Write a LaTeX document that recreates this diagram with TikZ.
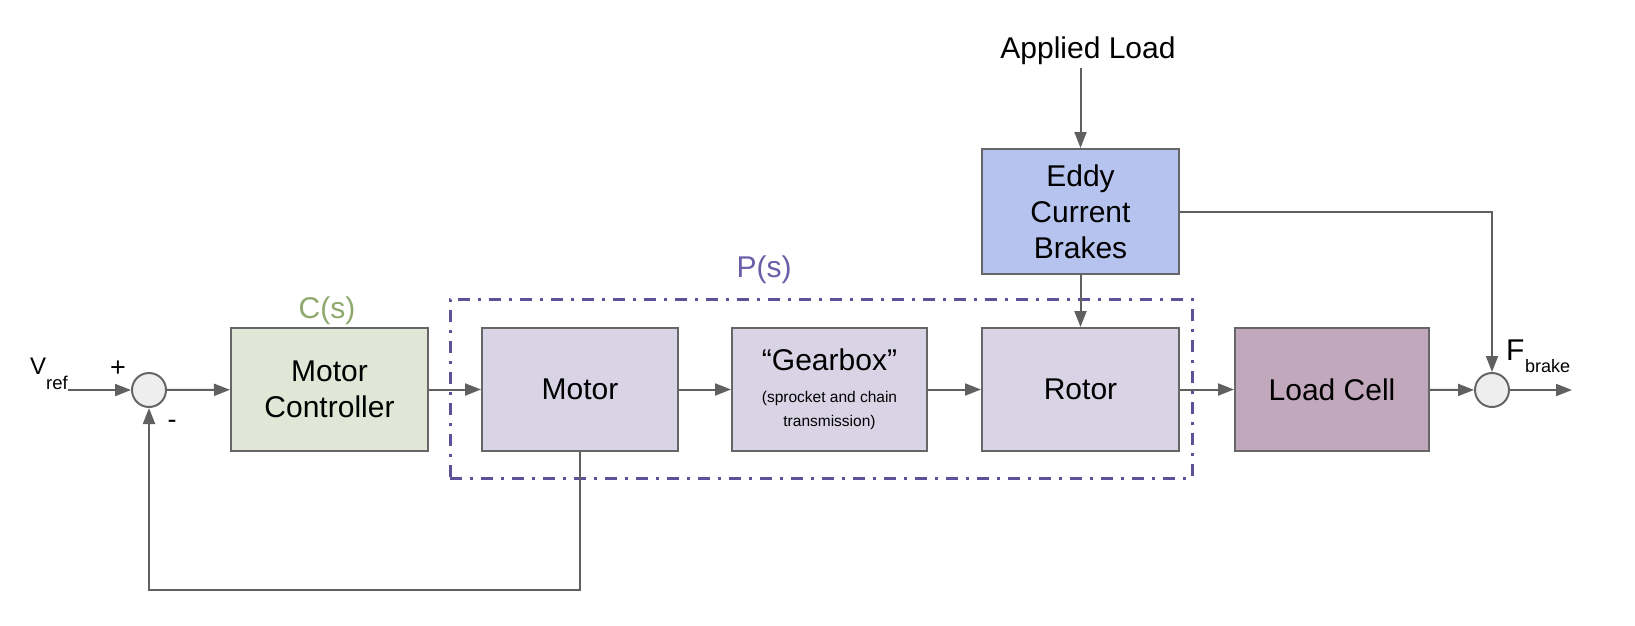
\documentclass[tikz,border=0pt]{standalone}
\usepackage{fontspec}
\setmainfont{Liberation Sans}
\usetikzlibrary{arrows.meta}
\definecolor{linegray}{HTML}{606060}
\definecolor{boxgray}{HTML}{666666}
\definecolor{ctrlfill}{HTML}{E0E7D6}
\definecolor{plantfill}{HTML}{D9D3E6}
\definecolor{eddyfill}{HTML}{B5C3EE}
\definecolor{cellfill}{HTML}{C2A8BD}
\definecolor{sumfill}{HTML}{EEEEEE}
\definecolor{cgreen}{HTML}{8FA86E}
\definecolor{ppurple}{HTML}{6A5EA8}
\definecolor{dashpurple}{HTML}{5E5199}
\tikzset{
  blk/.style={draw=boxgray, line width=2pt, minimum height=123pt, align=center,
    font=\fontsize{30}{36}\selectfont, inner sep=0pt},
  sumnode/.style={circle, draw=boxgray, line width=2pt, fill=sumfill, minimum size=34pt, inner sep=0pt},
  conn/.style={draw=linegray, line width=2pt, -{Triangle[length=16pt,width=12pt]}},
  lbl/.style={font=\fontsize{30}{36}\selectfont, inner sep=0pt},
}
\begin{document}
\begin{tikzpicture}[x=1pt,y=-1pt]
\useasboundingbox (0,0) rectangle (1635,625);
% plant dashed frame
\node (plant) [draw=dashpurple, line width=3pt, dash pattern=on 12pt off 8pt on 3pt off 8pt,
  minimum width=742pt, minimum height=179pt] at (821,388.5) {};
\node (plabel) [lbl, text=ppurple] at (764,270) {P(s)};
% blocks
\node (ctrl) [blk, fill=ctrlfill, minimum width=197pt] at (329.5,389.5) {Motor\\Controller};
\node (clabel) [lbl, text=cgreen] at (327,311) {C(s)};
\node (motor) [blk, fill=plantfill, minimum width=196pt] at (580,389.5) {Motor};
\node (gear) [blk, fill=plantfill, minimum width=195pt] at (829.5,389.5)
  {{\fontsize{30}{34}\selectfont “Gearbox”}\\[-4pt]{\fontsize{15.5}{20}\selectfont (sprocket and chain}\\[-12pt]{\fontsize{15.5}{20}\selectfont transmission)}};
\node (rotor) [blk, fill=plantfill, minimum width=197pt] at (1080.5,389.5) {Rotor};
\node (cell) [blk, fill=cellfill, minimum width=194pt] at (1332,389.5) {Load Cell};
\node (eddy) [blk, fill=eddyfill, minimum width=197pt, minimum height=125pt] at (1080.5,211.5) {Eddy\\Current\\Brakes};
\node (load) [lbl] at (1088,51) {Applied Load};
% summing junctions
\node (sum1) [sumnode] at (149,390) {};
\node (sum2) [sumnode] at (1492,390) {};
% labels
\node (vref) [lbl, anchor=base west, font=\fontsize{24}{28}\selectfont] at (30,374) {V};
\node (vsub) [lbl, anchor=base west, font=\fontsize{18.5}{22}\selectfont] at (46,389) {ref};
\node (plus) [lbl, font=\fontsize{27}{30}\selectfont] at (118,369) {+};
\node (minus) [lbl, font=\fontsize{27}{30}\selectfont] at (172,424) {-};
\node (fb) [lbl, anchor=base west] at (1506,360) {F};
\node (fbsub) [lbl, anchor=base west, font=\fontsize{18}{22}\selectfont] at (1525,372) {brake};
% coordinates
\coordinate (vin) at (68,390);
\coordinate (vout) at (1572,390);
\coordinate (ltop) at (1080.5,68);
\coordinate (fbcorner) at (580,590);
% connectors
\draw[conn] (vin) -- (sum1);
\draw[conn] (sum1) -- (ctrl);
\draw[conn] (ctrl) -- (motor);
\draw[conn] (motor) -- (gear);
\draw[conn] (gear) -- (rotor);
\draw[conn] (rotor) -- (cell);
\draw[conn] (cell) -- (sum2);
\draw[conn] (sum2) -- (vout);
\draw[conn] (ltop) -- (eddy);
\draw[conn] (eddy) -- (rotor);
\draw[conn] (eddy.east) -| (sum2.north);
\draw[conn] (motor.south) -- (fbcorner) -| (sum1.south);
\end{tikzpicture}
\end{document}
